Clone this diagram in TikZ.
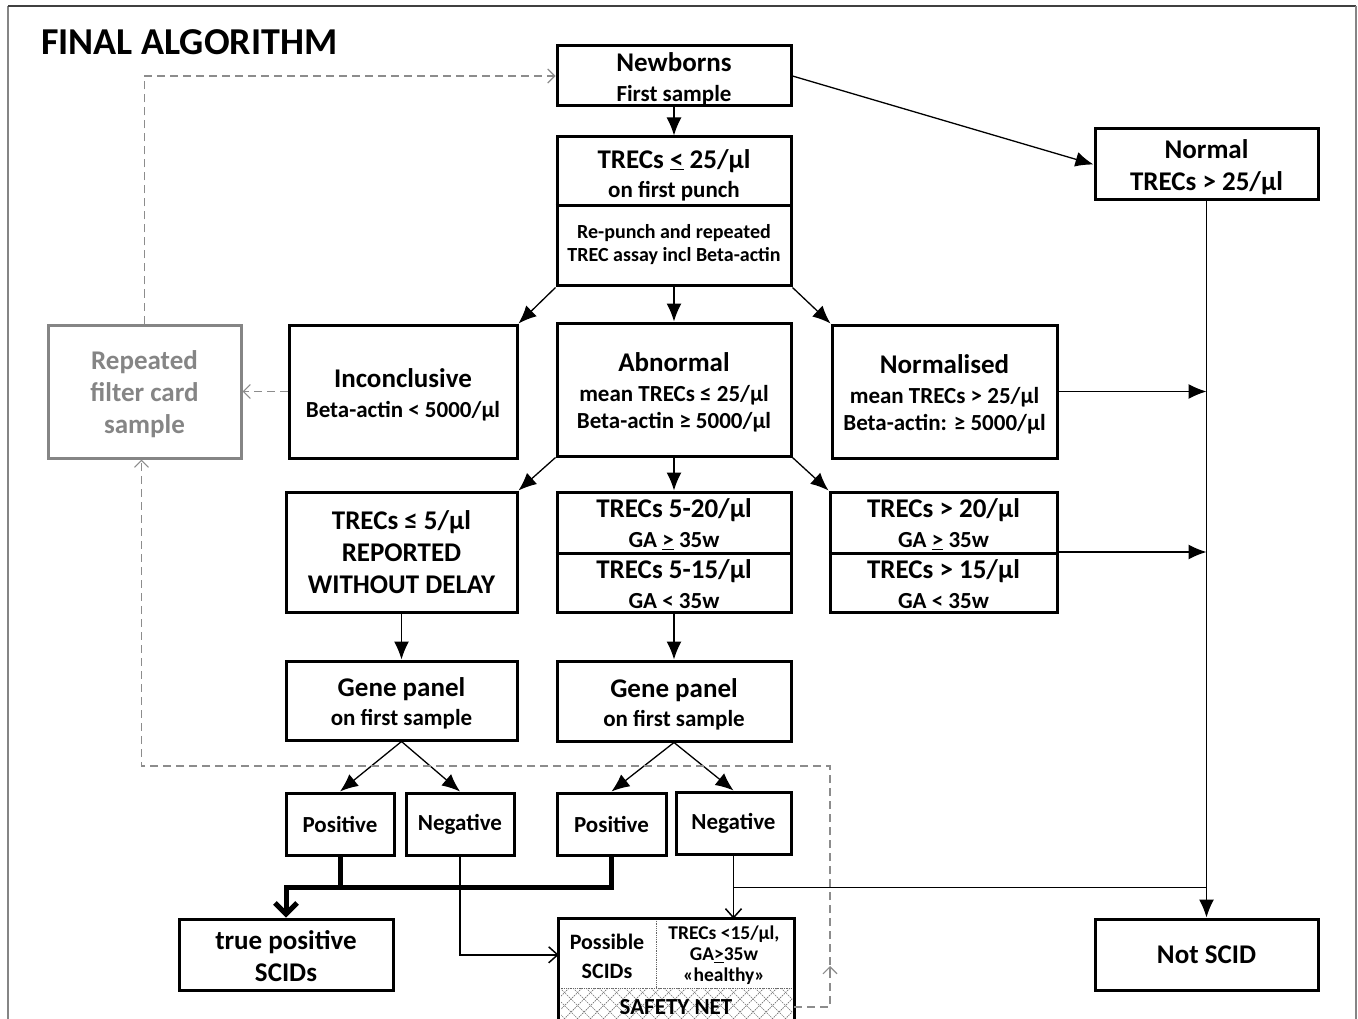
\documentclass[tikz,border=0pt]{standalone}
\usepackage{fontspec}
\setmainfont{Carlito}
\usetikzlibrary{arrows.meta,calc}
\newcommand\fbig{\fontsize{27}{30}\selectfont}
\newcommand\fsmall{\fontsize{23}{28}\selectfont}
\newcommand\dn{\rule{0pt}{25pt}}
\definecolor{rgrey}{HTML}{858585}
\definecolor{dgrey}{HTML}{8C8C8C}
\begin{document}
\begin{tikzpicture}[x=1pt,y=-1pt,
 box/.style={draw, line width=3pt, fill=white, align=center, inner sep=0pt},
 txt/.style={align=center, inner sep=0pt},
 sp/.style={font=\bfseries\fontsize{27}{#1}\selectfont},
 arr/.style={line width=1.3pt, -{Latex[length=18pt,width=15pt]}},
 barb/.style={line width=1.5pt, -{Straight Barb[length=9pt,width=16pt,line width=1.5pt]}},
 thickarr/.style={line width=5pt, -{Straight Barb[length=11pt,width=22pt,line width=5pt]}},
 dasharr/.style={draw=dgrey, line width=1.3pt, dash pattern=on 8pt off 5pt, -{Straight Barb[length=7pt,width=14pt,line width=1.1pt]}},
 plain/.style={line width=1.5pt},
 hatch/.style={black!55, line width=0.7pt, dash pattern=on 1.5pt off 1pt}
 ]
\useasboundingbox (0,0) rectangle (1358,1019);
\fill[white] (0,0) rectangle (1358,1019);
\draw[rgrey, line width=1.5pt] (8,1019) -- (8,6);
\draw[black!75, line width=1.5pt] (8,6) -- (1356,6);
\draw[rgrey, line width=1.5pt] (1356,6) -- (1356,1019);

\node[txt, anchor=west, font=\bfseries\fontsize{38}{40}\selectfont] (title) at (41,42) {FINAL ALGORITHM};

% top boxes
\node[box, sp=30, minimum width=234pt, minimum height=60pt] (newborns) at (674,76) {\dn\fbig Newborns\\\fsmall First sample};
\node[box, minimum width=234pt, minimum height=149pt] (trec) at (674,211.5) {};
\coordinate (trecdiv) at (674,206);
\draw[line width=3pt] (trecdiv -| trec.west) -- (trecdiv -| trec.east);
\node[txt, sp=29] (trecA) at (674,175) {\fbig TRECs \underline{<} 25/µl\\\fsmall on first punch};
\node[txt, font=\bfseries\fontsize{20}{23}\selectfont] (trecB) at (674,245) {Re-punch and repeated\\TREC assay incl Beta-actin};
\node[box, sp=32, minimum width=223pt, minimum height=71pt] (normal) at (1206.5,164.5) {\dn\fbig Normal\\\fbig TRECs > 25/µl};

% second row
\node[box, sp=32, draw=rgrey, text=rgrey, minimum width=193pt, minimum height=133pt] (rep) at (144.5,391.5) {\dn\fbig Repeated\\\fbig filter card\\\fbig sample};
\node[box, sp=30, minimum width=228pt, minimum height=133pt] (inconc) at (403,391.5) {\dn\fbig Inconclusive\\\fsmall Beta-actin < 5000/µl};
\node[box, sp=30, minimum width=234pt, minimum height=133pt] (abn) at (674,389.5) {\dn\fbig Abnormal\\\fsmall mean TRECs ≤ 25/µl\\[-3pt]\fsmall Beta-actin ≥ 5000/µl};
\node[box, sp=30, minimum width=225pt, minimum height=133pt] (normd) at (944.5,391.5) {\dn\fbig Normalised\\\fsmall mean TRECs > 25/µl\\[-3pt]\fsmall Beta-actin: ≥ 5000/µl};

% third row
\node[box, sp=32, minimum width=231pt, minimum height=120pt] (trec5) at (401.5,552) {\fbig TRECs ≤ 5/µl\\\fbig REPORTED\\\fbig WITHOUT DELAY};
\node[box, minimum width=234pt, minimum height=120pt] (trec520) at (674,552) {};
\coordinate (div2) at (674,553);
\draw[line width=3pt] (div2 -| trec520.west) -- (div2 -| trec520.east);
\node[txt, sp=30] (t520a) at (674,524) {\fbig TRECs 5-20/µl\\\fsmall GA \underline{>} 35w};
\node[txt, sp=30] (t520b) at (674,584) {\fbig TRECs 5-15/µl\\\fsmall GA < 35w};
\node[box, minimum width=227pt, minimum height=120pt] (trec20) at (943.5,552) {};
\draw[line width=3pt] (div2 -| trec20.west) -- (div2 -| trec20.east);
\node[txt, sp=30] (t20a) at (943.5,524) {\fbig TRECs > 20/µl\\\fsmall GA \underline{>} 35w};
\node[txt, sp=30] (t20b) at (943.5,584) {\fbig TRECs > 15/µl\\\fsmall GA < 35w};

% gene panels
\node[box, sp=29, minimum width=231pt, minimum height=79pt] (gene1) at (401.5,700.5) {\dn\fbig Gene panel\\\fsmall on first sample};
\node[box, sp=29, minimum width=234pt, minimum height=80pt] (gene2) at (674,701) {\dn\fbig Gene panel\\\fsmall on first sample};

% results
\node[box, font=\bfseries\fontsize{23}{28}\selectfont, minimum width=108pt, minimum height=62pt] (pos1) at (340,824) {Positive};
\node[box, font=\bfseries\fontsize{23}{28}\selectfont, minimum width=108pt, minimum height=62pt] (neg1) at (460,824) {Negative};
\node[box, font=\bfseries\fontsize{23}{28}\selectfont, minimum width=109pt, minimum height=62pt] (pos2) at (611.5,824) {Positive};
\node[box, font=\bfseries\fontsize{23}{28}\selectfont, minimum width=115pt, minimum height=62pt] (neg2) at (733.5,823) {Negative};

% bottom
\node[box, sp=32, minimum width=214pt, minimum height=71pt] (truepos) at (286,954.5) {\rule{0pt}{22pt}\fbig true positive\\\fbig SCIDs};
\node[box, sp=32, minimum width=223pt, minimum height=71pt] (notscid) at (1206.5,954.5) {\fbig Not SCID};

\node[minimum width=235pt, minimum height=100pt, inner sep=0pt] (possible) at (676.5,969) {};
\coordinate (hatchtop) at (676.5,988);
\begin{scope}
\clip (561,988) rectangle (792,1019);
\foreach \i in {-40,-27,...,260} {
  \draw[hatch] (561+\i,988) -- ++(35,35);
  \draw[hatch] (561+\i+35,988) -- ++(-35,35);
}
\end{scope}
\draw[black!60, line width=0.8pt, densely dotted] (hatchtop -| possible.west) -- (hatchtop -| possible.east);
\coordinate (pdiv) at (656,919);
\draw[black!60, line width=0.8pt, densely dotted] (pdiv) -- (pdiv |- hatchtop);
\draw[line width=3pt] (possible.south west) -- (possible.north west) -- (possible.north east) -- (possible.south east);
\node[txt, font=\bfseries\fontsize{22}{29}\selectfont] (pa) at (607,956) {Possible\\SCIDs};
\node[txt, font=\bfseries\fontsize{19.5}{21}\selectfont] (pb) at (724,955) {TRECs <15/µl,\\GA\underline{>}35w\\«healthy»};
\node[txt, font=\bfseries\fontsize{23}{28}\selectfont] (safety) at (676,1007) {SAFETY NET};

% arrows
\draw[arr] (newborns) -- (trec);
\draw[arr] (newborns.east) -- (normal.west);
\draw[arr] (trec.south west) -- (inconc.north east);
\draw[arr] (trec.south) -- (abn.north);
\draw[arr] (trec.south east) -- (normd.north west);
\draw[arr] (abn.south west) -- (trec5.north east);
\draw[arr] (abn.south) -- (trec520.north);
\draw[arr] (abn.south east) -- (trec20.north west);
\draw[arr] (normal.south) -- (notscid.north);
\draw[arr] (normd.east) -- (normd.east -| normal.south);
\draw[arr] (trec20.east) -- (trec20.east -| normal.south);
\draw[arr] (trec5.south) -- (gene1.north);
\draw[arr] (trec520.south) -- (gene2.north);
\draw[arr] (gene1.south) -- (pos1.north);
\draw[arr] (gene1.south) -- (neg1.north);
\draw[arr] (gene2.south) -- (pos2.north);
\draw[arr] (gene2.south) -- (neg2.north);

% thick positive path
\draw[line width=5pt] (pos1.south) -- ++(0,31);
\draw[thickarr] (pos2.south) -- ++(0,31) -| (truepos.north);

% negative paths
\draw[barb] (neg1.south) |- ([yshift=-36pt]possible.north west);
\draw[barb] (neg2.south) -- (neg2.south |- possible.north);
\coordinate (jn) at ([yshift=-32pt]neg2.south);
\draw[plain] (jn) -- (jn -| notscid.north);

% dashed loops
\draw[dasharr] (inconc.west) -- (rep.east);
\draw[dasharr] (rep.north) |- (newborns.west);
\coordinate (sn) at (794,1007);
\coordinate (sncorner) at (830,1007);
\coordinate (loopcorner) at (830,766);
\draw[dasharr] (sn) -- (sncorner) -- (loopcorner) -| ([xshift=-3pt]rep.south);
\coordinate (midtip) at (830,966);
\draw[draw=dgrey, line width=1.1pt, -{Straight Barb[length=7pt,width=14pt,line width=1.1pt]}] ([yshift=-8pt]midtip) -- (midtip);
\end{tikzpicture}
\end{document}
